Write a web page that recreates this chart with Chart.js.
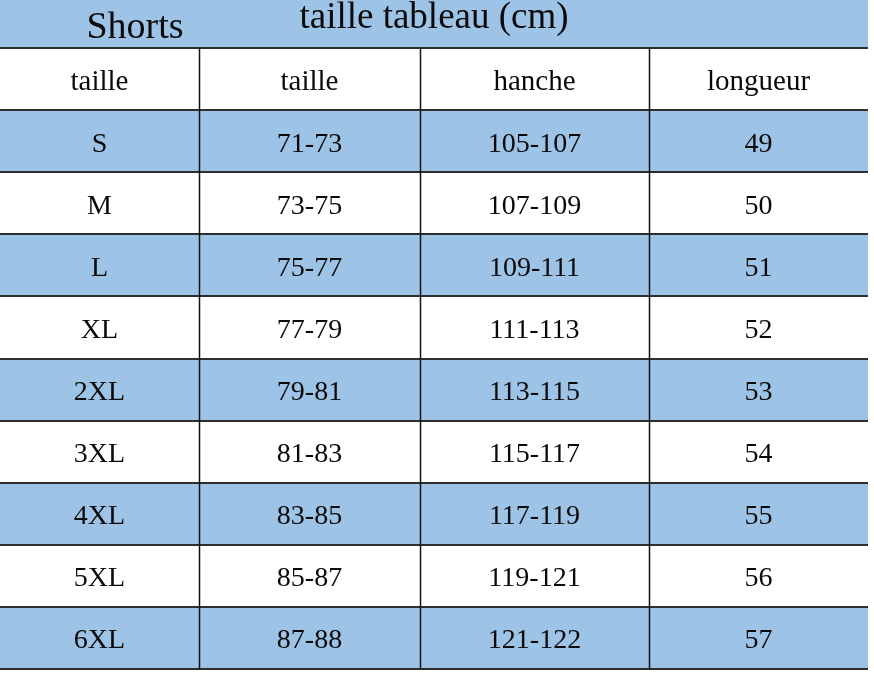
<!DOCTYPE html>
<html>
<head>
<meta charset="utf-8">
<script src="https://cdn.jsdelivr.net/npm/chart.js@4.4.1/dist/chart.umd.min.js"></script>
<style>
  html, body { margin: 0; padding: 0; background: #ffffff; }
  #wrap { width: 874px; height: 675px; }
</style>
</head>
<body>
<div id="wrap"><canvas id="sizeChart"></canvas></div>
<script>
// table content
const productName = "Shorts";
const tableTitle = "taille tableau (cm)";
const columnLabels = ["taille", "taille", "hanche", "longueur"];
const sizes = ["S", "M", "L", "XL", "2XL", "3XL", "4XL", "5XL", "6XL"];
const tailleValues = ["71-73", "73-75", "75-77", "77-79", "79-81", "81-83", "83-85", "85-87", "87-88"];
const hancheValues = ["105-107", "107-109", "109-111", "111-113", "113-115", "115-117", "117-119", "119-121", "121-122"];
const longueurValues = [49, 50, 51, 52, 53, 54, 55, 56, 57];

// layout: relative column widths and colours
const columnWeights = [199, 221, 229, 219];
const bandColor = "#9dc3e6";
const serif = "'Liberation Serif', 'Times New Roman', serif";

const columnEdges = [0];
columnWeights.forEach((w, i) => columnEdges.push(columnEdges[i] + w));
const totalWidth = columnEdges[columnEdges.length - 1];

const rowLabels = ["header"].concat(sizes);
const rowCells = [columnLabels].concat(
  sizes.map((s, i) => [s, tailleValues[i], hancheValues[i], String(longueurValues[i])])
);

// blue band on every other row, starting with S
const bandData = rowLabels.map((_, i) => (i % 2 === 1 ? [0, totalWidth] : null));

const tablePlugin = {
  id: "sizeTable",
  beforeDraw(chart) {
    const { ctx, chartArea } = chart;
    ctx.save();
    ctx.fillStyle = bandColor;
    ctx.fillRect(0, 0, chartArea.right, chartArea.top);
    ctx.fillStyle = "#0a0a0a";
    ctx.font = "38px " + serif;
    ctx.textAlign = "center";
    ctx.textBaseline = "alphabetic";
    ctx.fillText(productName, 135, 38);
    ctx.restore();
  },
  afterDatasetsDraw(chart) {
    const { ctx, chartArea } = chart;
    const x = chart.scales.x;
    const y = chart.scales.y;
    ctx.save();

    // horizontal rules
    ctx.strokeStyle = "#2e2e2e";
    ctx.lineWidth = 2;
    for (let i = 0; i <= rowLabels.length; i++) {
      const py = Math.round(y.getPixelForValue(i - 0.5));
      ctx.beginPath();
      ctx.moveTo(chartArea.left, py);
      ctx.lineTo(chartArea.right, py);
      ctx.stroke();
    }

    // vertical rules between columns
    ctx.strokeStyle = "#111";
    ctx.lineWidth = 1.5;
    for (let c = 1; c < columnEdges.length - 1; c++) {
      const px = Math.round(x.getPixelForValue(columnEdges[c])) + 0.5;
      ctx.beginPath();
      ctx.moveTo(px, chartArea.top);
      ctx.lineTo(px, chartArea.bottom);
      ctx.stroke();
    }

    // cell text
    ctx.fillStyle = "#0a0a0a";
    ctx.textAlign = "center";
    ctx.textBaseline = "middle";
    rowCells.forEach((cells, r) => {
      ctx.font = (r === 0 ? "29px " : "28px ") + serif;
      const py = y.getPixelForValue(r) + 3;
      cells.forEach((txt, c) => {
        const px = x.getPixelForValue((columnEdges[c] + columnEdges[c + 1]) / 2);
        ctx.fillText(txt, px, py);
      });
    });
    ctx.restore();
  },
};

new Chart(document.getElementById("sizeChart"), {
  type: "bar",
  data: {
    labels: rowLabels,
    datasets: [
      {
        data: bandData,
        backgroundColor: bandColor,
        borderWidth: 0,
        borderSkipped: false,
        barPercentage: 1,
        categoryPercentage: 1,
      },
    ],
  },
  options: {
    indexAxis: "y",
    responsive: true,
    maintainAspectRatio: false,
    animation: false,
    layout: { padding: { left: 0, right: 6, top: 0, bottom: 6 } },
    scales: {
      x: { type: "linear", min: 0, max: totalWidth, display: false },
      y: { type: "category", display: false, offset: true },
    },
    plugins: {
      legend: { display: false },
      tooltip: { enabled: false },
      title: {
        display: true,
        text: tableTitle,
        color: "#0a0a0a",
        font: { family: serif, size: 37, weight: "normal", lineHeight: 0.8 },
        padding: { top: 3, bottom: 15.4 },
      },
    },
  },
  plugins: [tablePlugin],
});
</script>
</body>
</html>
